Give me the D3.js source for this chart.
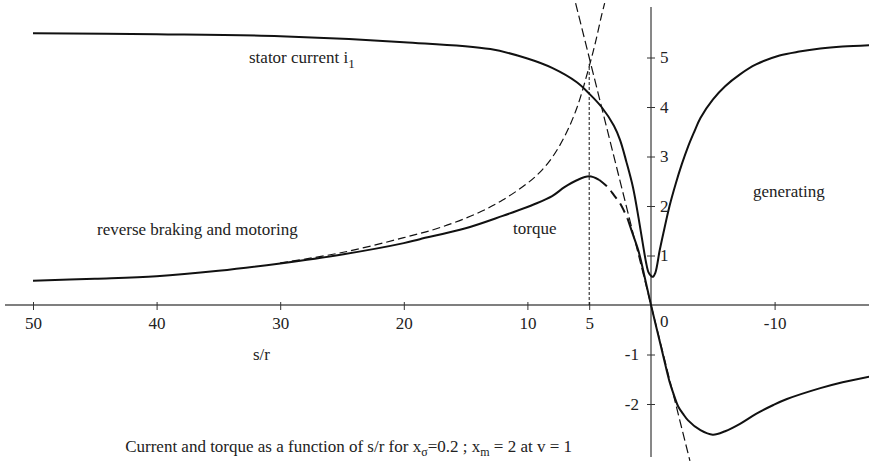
<!DOCTYPE html>
<html>
<head>
<meta charset="utf-8">
<script src="https://cdn.jsdelivr.net/npm/d3@7"></script>
<style>
  body { margin: 0; background: #fff; }
  text { font-family: "Liberation Serif", "Times New Roman", serif; fill: #222; }
</style>
</head>
<body>
<script>
// stator current i1 vs s/r
var currentSr  = [50, 40, 30, 20, 13, 10, 8, 6, 5, 4, 3, 2.5, 2, 1.46, 1, 0.65, 0.4, 0.2, 0, -0.15, -0.35, -0.7, -1, -1.5, -2, -2.5, -3, -3.5, -4, -5, -6, -7.2, -8.5, -10.4, -12, -13.7, -15.5, -17.8];
var currentVal = [5.49, 5.47, 5.43, 5.31, 5.17, 4.98, 4.79, 4.5, 4.27, 4.0, 3.62, 3.33, 2.9, 2.38, 1.75, 1.22, 0.86, 0.66, 0.59, 0.57, 0.65, 1.1, 1.45, 2.0, 2.45, 2.85, 3.2, 3.5, 3.78, 4.15, 4.42, 4.66, 4.86, 5.04, 5.12, 5.18, 5.22, 5.25];

// torque, solid up to the peak
var torqueSr  = [50, 45, 40, 35, 30, 25, 20, 18.7, 15, 12, 10, 9.5, 8, 7, 6, 5, 4.2];
var torqueVal = [0.49, 0.53, 0.58, 0.69, 0.84, 1.02, 1.25, 1.33, 1.55, 1.8, 1.98, 2.03, 2.2, 2.38, 2.52, 2.6, 2.53];
// torque, long-dashed stretch after the peak
var torqueMidSr  = [4.2, 3.5, 3, 2.5, 1.9];
var torqueMidVal = [2.53, 2.38, 2.22, 2.05, 1.75];
// torque, solid through zero into generating
var torqueEndSr  = [1.9, 1.5, 1, 0.5, 0, -0.5, -1, -1.5, -1.8, -2.2, -2.6, -3, -4, -5, -6, -7.2, -8.5, -9.9, -11, -13.7, -15.5, -17.8];
var torqueEndVal = [1.75, 1.45, 1.08, 0.55, 0, -0.52, -1.04, -1.55, -1.78, -2.05, -2.2, -2.33, -2.53, -2.62, -2.55, -2.4, -2.2, -2.02, -1.9, -1.68, -1.56, -1.44];

// dashed approximations
var hyperSr  = [30, 25, 20, 17, 14, 12, 10, 9, 8, 7, 6, 5, 4.5, 4, 3.75];
var hyperVal = [0.85, 1.06, 1.36, 1.57, 1.86, 2.12, 2.46, 2.68, 2.98, 3.4, 3.98, 4.82, 5.3, 5.85, 6.1];
var linearSr  = [6.1, -3.15];
var linearVal = [6.1, -3.15];

var markerSr = 5, markerTop = 4.87;

var xTicks = [50, 40, 30, 20, 10, 5, -10];
var yPosTicks = [1, 2, 3, 4, 5];
var yNegTicks = [-1, -2];

var W = 869, H = 473;
var FS = 17;
var x = d3.scaleLinear().domain([50, 0]).range([33, 651]);
var y = d3.scaleLinear().domain([0, 5]).range([305, 57.5]);

var svg = d3.select("body").append("svg")
  .attr("width", W).attr("height", H);

// axes lines
svg.append("line")
  .attr("x1", 5).attr("x2", W).attr("y1", y(0)).attr("y2", y(0))
  .attr("stroke", "#555").attr("stroke-width", 1.3);
svg.append("line")
  .attr("x1", x(0)).attr("x2", x(0)).attr("y1", 7).attr("y2", 457)
  .attr("stroke", "#111").attr("stroke-width", 1);

var fmt = function(d) { return String(d); };

// x axis ticks
var gx = svg.append("g")
  .attr("transform", "translate(0," + y(0) + ")")
  .call(d3.axisBottom(x).tickValues(xTicks).tickFormat(fmt).tickSize(5));
gx.select(".domain").remove();
gx.selectAll(".tick line").attr("y1", -3).attr("y2", 5).attr("stroke", "#333");
gx.selectAll(".tick text").attr("y", 12).attr("font-size", FS)
  .attr("font-family", "Liberation Serif").attr("fill", "#222");

svg.append("text").attr("x", x(0) + 9).attr("y", y(0) + 22)
  .attr("font-size", FS).text("0");

// y axis ticks, positive on the right, negative on the left
var gyp = svg.append("g")
  .attr("transform", "translate(" + x(0) + ",0)")
  .call(d3.axisRight(y).tickValues(yPosTicks).tickFormat(fmt).tickSize(4));
gyp.select(".domain").remove();
gyp.selectAll(".tick line").attr("x1", -4).attr("x2", 4).attr("stroke", "#333");
gyp.selectAll(".tick text").attr("x", 9).attr("font-size", FS)
  .attr("font-family", "Liberation Serif").attr("fill", "#222");

var gyn = svg.append("g")
  .attr("transform", "translate(" + x(0) + ",0)")
  .call(d3.axisLeft(y).tickValues(yNegTicks).tickFormat(fmt).tickSize(4));
gyn.select(".domain").remove();
gyn.selectAll(".tick line").attr("x1", -4).attr("x2", 4).attr("stroke", "#333");
gyn.selectAll(".tick text").attr("x", -12).attr("font-size", FS)
  .attr("font-family", "Liberation Serif").attr("fill", "#222");

function pts(xs, ys) { return xs.map(function(d, i) { return [d, ys[i]]; }); }
var line = d3.line()
  .x(function(d) { return x(d[0]); })
  .y(function(d) { return y(d[1]); })
  .curve(d3.curveCatmullRom.alpha(0.5));

function draw(data, width, dash) {
  svg.append("path")
    .datum(data)
    .attr("d", line)
    .attr("fill", "none")
    .attr("stroke", "#111")
    .attr("stroke-width", width)
    .attr("stroke-dasharray", dash);
}

// dashed helpers
draw(pts(hyperSr, hyperVal), 1.2, "8,4");
draw(pts(linearSr, linearVal), 1.2, "9,4");
svg.append("line")
  .attr("x1", x(markerSr)).attr("x2", x(markerSr))
  .attr("y1", y(0)).attr("y2", y(markerTop))
  .attr("stroke", "#111").attr("stroke-width", 1).attr("stroke-dasharray", "3,2");

// main curves
draw(pts(currentSr, currentVal), 2, null);
draw(pts(torqueSr, torqueVal), 2, null);
draw(pts(torqueMidSr, torqueMidVal), 2, "10,6");
draw(pts(torqueEndSr, torqueEndVal), 2, null);

// labels
var lab = svg.append("text").attr("x", 249).attr("y", 63).attr("font-size", FS);
lab.append("tspan").text("stator current i");
lab.append("tspan").attr("dy", 5).attr("font-size", 13).text("1");

svg.append("text").attr("x", 513).attr("y", 234).attr("font-size", FS).text("torque");
svg.append("text").attr("x", 97).attr("y", 235).attr("font-size", FS).text("reverse braking and motoring");
svg.append("text").attr("x", 753).attr("y", 197).attr("font-size", FS).text("generating");
svg.append("text").attr("x", 253).attr("y", 360).attr("font-size", FS).text("s/r");

var cap = svg.append("text").attr("x", 572).attr("y", 452)
  .attr("font-size", FS).attr("text-anchor", "end");
cap.append("tspan").text("Current and torque as a function of  s/r for x");
cap.append("tspan").attr("dy", 4).attr("font-size", 12).text("\u03c3");
cap.append("tspan").attr("dy", -4).text("=0.2 ; x");
cap.append("tspan").attr("dy", 4).attr("font-size", 12).text("m");
cap.append("tspan").attr("dy", -4).text(" = 2 at  v = 1");
</script>
</body>
</html>
